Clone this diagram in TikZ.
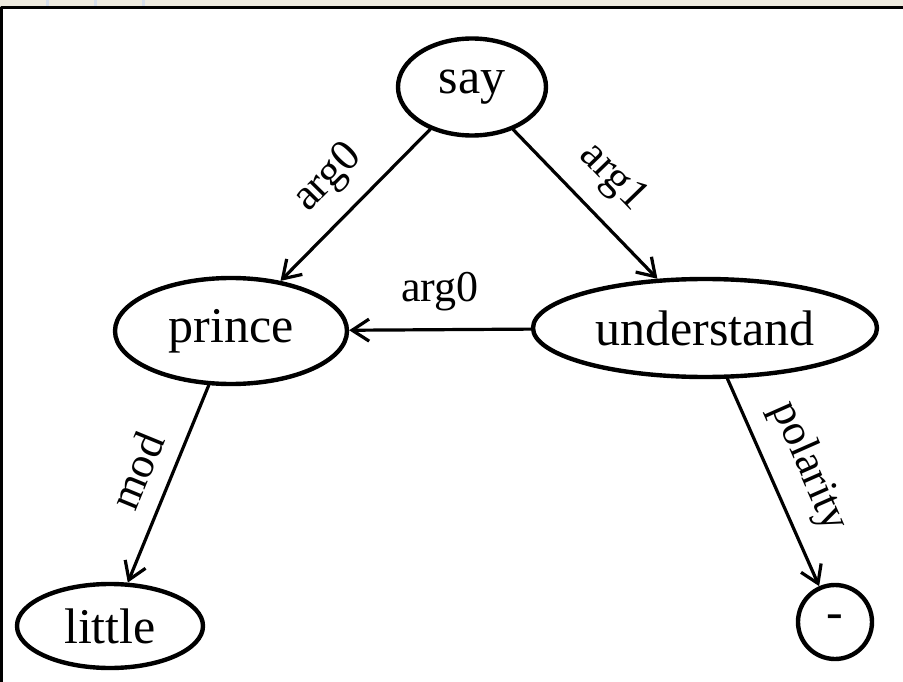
\documentclass[tikz,border=0pt]{standalone}
\usepackage{fontspec}
\setmainfont{Liberation Serif}
\usepackage{tikz}
\usetikzlibrary{arrows.meta,shapes.geometric,calc}

\definecolor{barbeige}{HTML}{EEEBE0}
\definecolor{tickblue}{HTML}{D6DEEA}

\begin{document}
\begin{tikzpicture}[x=1pt,y=-1pt,line cap=round,line join=round,
  concept/.style={draw,ellipse,line width=4.4pt,inner sep=0pt,font=\fontsize{50}{60}\selectfont},
  rel/.style={-{Straight Barb[length=17pt,width=22pt,line width=3.2pt]},line width=3.2pt},
  lbl/.style={font=\fontsize{44}{52}\selectfont,inner sep=17pt}]
\useasboundingbox (0,0) rectangle (903,682);
% window frame
\fill[barbeige] (0,0) rectangle (903,7);
\foreach \xx in {47,95,143}
  \fill[tickblue] (\xx-1.5,0) rectangle (\xx+1.5,6);
\draw[line width=2.5pt,line cap=butt] (903,7.5) -- (1.5,7.5) -- (1.5,682);
% concepts
\node[concept,minimum width=148pt,minimum height=97pt] (say) at (472,87) {say};
\node[concept,minimum width=232pt,minimum height=106pt] (prince) at (231,331) {prince};
\node[concept,minimum width=344pt,minimum height=98pt] (understand) at (705,328) {understand};
\node[concept,minimum width=186pt,minimum height=84pt] (little) at (110,626) {little};
\node[concept,circle,minimum size=74pt] (neg) at (835,622) {-};
% relations
\draw[rel] (say) -- node[lbl,sloped,above] {arg0} (prince);
\draw[rel] (say) -- node[lbl,sloped,above] {arg1} (understand);
\draw[rel] (understand) -- node[lbl,above] {arg0} (prince);
\draw[rel] (prince) -- node[lbl,sloped,above] {mod} (little);
\draw[rel] (understand) -- node[lbl,sloped,above] {polarity} (neg);
\end{tikzpicture}
\end{document}
